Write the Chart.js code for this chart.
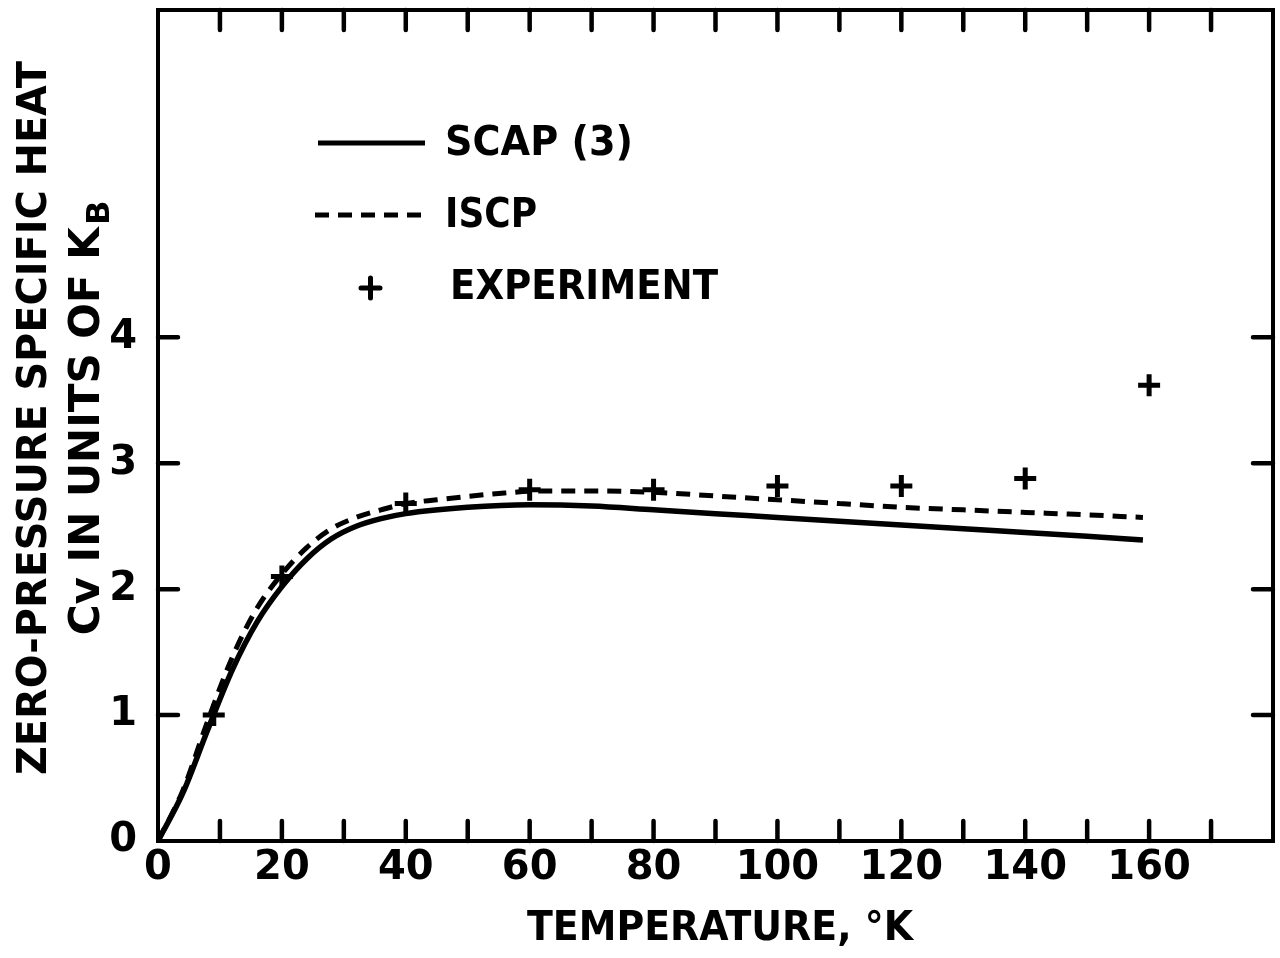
<!DOCTYPE html>
<html>
<head>
<meta charset="utf-8">
<script src="https://cdn.jsdelivr.net/npm/chart.js@4.4.1/dist/chart.umd.min.js"></script>
<style>
  html, body { margin: 0; padding: 0; background: #fff; }
  #wrap { width: 1280px; height: 958px; }
</style>
</head>
<body>
<div id="wrap"><canvas id="chartCv" width="1280" height="958"></canvas></div>
<script>
// ── Datos ─────────────────────────────────────────────────
const scapT   = [0, 4, 8, 12, 16, 20, 24, 28, 32, 36, 40, 50, 60, 70, 80, 90, 100, 110, 120, 130, 140, 150, 159];
const scapCv  = [0, 0.38, 0.88, 1.36, 1.74, 2.02, 2.24, 2.4, 2.5, 2.56, 2.6, 2.65, 2.67, 2.66, 2.63, 2.6, 2.57, 2.54, 2.51, 2.48, 2.45, 2.42, 2.39];

const iscpT   = [0, 4, 8, 12, 16, 20, 24, 28, 32, 36, 40, 45, 55, 62, 70, 80, 90, 100, 110, 120, 130, 140, 150, 159];
const iscpCv  = [0, 0.4, 0.95, 1.46, 1.85, 2.12, 2.33, 2.48, 2.57, 2.63, 2.68, 2.71, 2.76, 2.78, 2.78, 2.77, 2.74, 2.71, 2.68, 2.65, 2.63, 2.61, 2.59, 2.57];

const expT    = [9, 20, 40, 60, 80, 100, 120, 140, 160];
const expCv   = [1.0, 2.1, 2.68, 2.79, 2.79, 2.82, 2.82, 2.88, 3.62];

const xLabelTicks = [0, 20, 40, 60, 80, 100, 120, 140, 160];
const xMarkTicks  = [10, 20, 30, 40, 50, 60, 70, 80, 90, 100, 110, 120, 130, 140, 150, 160, 170];
const yLabelTicks = [0, 1, 2, 3, 4];
const yMarkTicks  = [1, 2, 3, 4];

const FONT = "'DejaVu Sans', sans-serif";

const pts = (xs, ys) => xs.map((x, i) => ({ x, y: ys[i] }));

// ── Marco, marcas internas, leyenda y títulos ─────────────
const decoPlugin = {
    id: 'deco',
    afterDraw(chart) {
        const { ctx, chartArea: a, scales: { x, y } } = chart;
        ctx.save();
        ctx.strokeStyle = '#000';
        ctx.lineWidth = 4;
        ctx.lineCap = 'round';
        ctx.strokeRect(a.left, a.top, a.right - a.left, a.bottom - a.top);

        ctx.lineWidth = 4.5;
        const tl = 20;
        xMarkTicks.forEach(v => {
            const px = x.getPixelForValue(v);
            ctx.beginPath();
            ctx.moveTo(px, a.bottom); ctx.lineTo(px, a.bottom - tl);
            ctx.moveTo(px, a.top); ctx.lineTo(px, a.top + tl);
            ctx.stroke();
        });
        yMarkTicks.forEach(v => {
            const py = y.getPixelForValue(v);
            ctx.beginPath();
            ctx.moveTo(a.left, py); ctx.lineTo(a.left + tl, py);
            ctx.moveTo(a.right, py); ctx.lineTo(a.right - tl, py);
            ctx.stroke();
        });

        // leyenda
        ctx.lineCap = 'butt';
        ctx.lineWidth = 5;
        ctx.beginPath(); ctx.moveTo(318, 143); ctx.lineTo(425, 143); ctx.stroke();
        ctx.setLineDash([14, 9]);
        ctx.beginPath(); ctx.moveTo(315, 215); ctx.lineTo(425, 215); ctx.stroke();
        ctx.setLineDash([]);
        ctx.lineWidth = 5;
        ctx.lineCap = 'round';
        ctx.beginPath();
        ctx.moveTo(361, 288); ctx.lineTo(380, 288);
        ctx.moveTo(370.5, 278); ctx.lineTo(370.5, 298);
        ctx.stroke();

        ctx.fillStyle = '#000';
        ctx.font = `bold 40px ${FONT}`;
        ctx.textBaseline = 'middle';
        ctx.textAlign = 'left';
        ctx.fillText('SCAP (3)', 445, 145, 188);
        ctx.fillText('ISCP', 445, 217, 92);
        ctx.fillText('EXPERIMENT', 450, 289, 268);

        // título del eje X
        ctx.textAlign = 'center';
        ctx.font = `bold 41px ${FONT}`;
        ctx.fillText('TEMPERATURE, °K', 720, 929, 386);

        // título del eje Y (dos líneas, con subíndice)
        ctx.save();
        ctx.translate(35, 418);
        ctx.rotate(-Math.PI / 2);
        ctx.textAlign = 'center';
        ctx.font = `bold 41px ${FONT}`;
        ctx.fillText('ZERO-PRESSURE SPECIFIC HEAT', 0, 0, 714);
        ctx.restore();

        ctx.save();
        ctx.translate(88, 418);
        ctx.rotate(-Math.PI / 2);
        const main = 'Cv IN UNITS OF K';
        ctx.font = `bold 42px ${FONT}`;
        const wMain = ctx.measureText(main).width;
        ctx.font = `bold 32px ${FONT}`;
        const wSub = ctx.measureText('B').width;
        const target = 446;
        const k = Math.min(1, target / (wMain + wSub + 2));
        ctx.scale(k, 1);
        const start = -(wMain + wSub + 2) / 2;
        ctx.textAlign = 'left';
        ctx.font = `bold 42px ${FONT}`;
        ctx.fillText(main, start, 0);
        ctx.font = `bold 32px ${FONT}`;
        ctx.fillText('B', start + wMain + 2, 13);
        ctx.restore();

        ctx.restore();
    }
};

new Chart(document.getElementById('chartCv'), {
    type: 'line',
    data: {
        datasets: [
            {
                label: 'SCAP (3)',
                data: pts(scapT, scapCv),
                borderColor: '#000',
                borderWidth: 5.5,
                pointRadius: 0,
                cubicInterpolationMode: 'monotone',
                fill: false
            },
            {
                label: 'ISCP',
                data: pts(iscpT, iscpCv),
                borderColor: '#000',
                borderWidth: 5,
                borderDash: [14, 9],
                pointRadius: 0,
                cubicInterpolationMode: 'monotone',
                fill: false
            },
            {
                label: 'EXPERIMENT',
                data: pts(expT, expCv),
                showLine: false,
                pointStyle: 'cross',
                pointRadius: 11,
                pointBorderWidth: 5,
                pointBorderColor: '#000',
                pointBackgroundColor: '#000'
            }
        ]
    },
    options: {
        responsive: false,
        animation: false,
        layout: { autoPadding: false, padding: { left: 0, right: 7, top: 10, bottom: 0 } },
        plugins: { legend: { display: false }, tooltip: { enabled: false } },
        scales: {
            x: {
                type: 'linear',
                min: 0,
                max: 180,
                grid: { display: false, drawTicks: false },
                border: { display: false },
                afterBuildTicks: s => { s.ticks = xLabelTicks.map(v => ({ value: v })); },
                afterFit: s => {
                    s.height = 117;
                    s.paddingLeft = 0; s.paddingRight = 0;
                },
                ticks: {
                    color: '#000',
                    padding: 8,
                    maxRotation: 0,
                    autoSkip: false,
                    font: { family: FONT, size: 40, weight: 'bold', lineHeight: 1.0 }
                }
            },
            y: {
                type: 'linear',
                min: 0,
                max: 6.6,
                grid: { display: false, drawTicks: false },
                border: { display: false },
                afterBuildTicks: s => { s.ticks = yLabelTicks.map(v => ({ value: v })); },
                afterFit: s => {
                    s.width = 158;
                    s.paddingTop = 0; s.paddingBottom = 0;
                },
                ticks: {
                    color: '#000',
                    padding: 21,
                    autoSkip: false,
                    font: { family: FONT, size: 40, weight: 'bold', lineHeight: 1.0 }
                }
            }
        }
    },
    plugins: [decoPlugin]
});
</script>
</body>
</html>
